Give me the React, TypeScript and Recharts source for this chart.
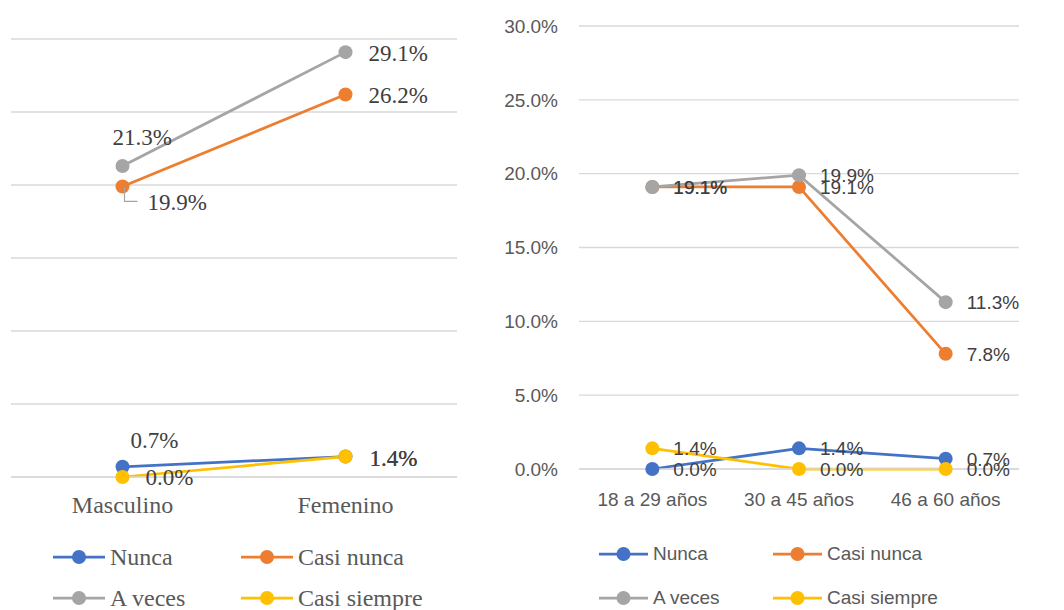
import { LineChart, Line, XAxis, YAxis, CartesianGrid, LabelList } from "recharts";

// series order: Nunca, Casi nunca, A veces, Casi siempre
const SERIES = [
  { key: "nunca", name: "Nunca", color: "#4472C4" },
  { key: "casiNunca", name: "Casi nunca", color: "#ED7D31" },
  { key: "aVeces", name: "A veces", color: "#A5A5A5" },
  { key: "casiSiempre", name: "Casi siempre", color: "#FFC000" },
];

const Y_TICKS = [0, 5, 10, 15, 20, 25, 30];

// left chart: sexo
const sexCategories = ["Masculino", "Femenino"];
const sexNunca = [0.7, 1.4];
const sexCasiNunca = [19.9, 26.2];
const sexAVeces = [21.3, 29.1];
const sexCasiSiempre = [0.0, 1.4];

// right chart: edad
const ageCategories = ["18 a 29 años", "30 a 45 años", "46 a 60 años"];
const ageNunca = [0.0, 1.4, 0.7];
const ageCasiNunca = [19.1, 19.1, 7.8];
const ageAVeces = [19.1, 19.9, 11.3];
const ageCasiSiempre = [1.4, 0.0, 0.0];

const sexData = sexCategories.map((cat, i) => ({
  cat,
  nunca: sexNunca[i],
  casiNunca: sexCasiNunca[i],
  aVeces: sexAVeces[i],
  casiSiempre: sexCasiSiempre[i],
}));

const ageData = ageCategories.map((cat, i) => ({
  cat,
  nunca: ageNunca[i],
  casiNunca: ageCasiNunca[i],
  aVeces: ageAVeces[i],
  casiSiempre: ageCasiSiempre[i],
}));

const SERIF = "'Liberation Serif', 'Times New Roman', serif";
const SANS = "'Liberation Sans', Arial, sans-serif";
const pct = (v: number) => `${Number(v).toFixed(1)}%`;

// label placement for the left chart (Excel moved a few by hand)
const sexLabelOffsets: Record<string, { dx: number; dy: number; leader?: boolean }[]> = {
  nunca: [{ dx: 8, dy: -19 }, { dx: 24, dy: 9 }],
  casiNunca: [{ dx: 25, dy: 24, leader: true }, { dx: 23, dy: 9 }],
  aVeces: [{ dx: -10, dy: -21 }, { dx: 23, dy: 9 }],
  casiSiempre: [{ dx: 23, dy: 8 }, { dx: 24, dy: 9 }],
};

function sexLabel(seriesKey: string) {
  return (props: any) => {
    const { x, y, value, index } = props;
    const o = sexLabelOffsets[seriesKey][index];
    return (
      <g>
        {o.leader && (
          <polyline
            points={`${x + 2},${y + 1} ${x + 2},${y + 15} ${x + 15},${y + 15}`}
            fill="none"
            stroke="#A6A6A6"
            strokeWidth={1.2}
          />
        )}
        <text
          x={x + o.dx}
          y={y + o.dy}
          fill="#404040"
          style={{ fontFamily: SERIF, fontSize: 23 }}
        >
          {pct(value)}
        </text>
      </g>
    );
  };
}

const ageLabel = (props: any) => {
  const { x, y, value } = props;
  return (
    <text x={x + 21} y={y + 7} fill="#404040" style={{ fontFamily: SANS, fontSize: 19 }}>
      {pct(value)}
    </text>
  );
};

function LegendBlock({
  left,
  top,
  cols,
  rowGap,
  lineLen,
  font,
  fontSize,
}: {
  left: number;
  top: number;
  cols: number[];
  rowGap: number;
  lineLen: number;
  font: string;
  fontSize: number;
}) {
  return (
    <>
      {SERIES.map((s, i) => {
        const col = i % 2;
        const row = Math.floor(i / 2);
        return (
          <div
            key={s.key}
            style={{
              position: "absolute",
              left: left + cols[col],
              top: top + row * rowGap - 12,
              height: 24,
              display: "flex",
              alignItems: "center",
              fontFamily: font,
              fontSize,
              color: "#595959",
              whiteSpace: "nowrap",
            }}
          >
            <svg width={lineLen} height={18} style={{ marginRight: 5 }}>
              <line x1={0} y1={9} x2={lineLen} y2={9} stroke={s.color} strokeWidth={2.75} />
              <circle cx={lineLen / 2} cy={9} r={7} fill={s.color} />
            </svg>
            <span>{s.name}</span>
          </div>
        );
      })}
    </>
  );
}

export default function App() {
  return (
    <div
      style={{
        position: "absolute",
        left: 0,
        top: 0,
        width: 1064,
        height: 610,
        background: "#fff",
        overflow: "hidden",
      }}
    >
      <div style={{ position: "absolute", left: 0, top: 0 }}>
        <LineChart width={480} height={610} data={sexData} margin={{ top: 39, right: 23, bottom: 93, left: 11 }}>
          <CartesianGrid vertical={false} stroke="#D9D9D9" strokeWidth={1.3} />
          <XAxis
            dataKey="cat"
            scale="band"
            height={40}
            tickLine={false}
            axisLine={{ stroke: "#D9D9D9", strokeWidth: 1.3 }}
            tickMargin={13}
            tick={{ fill: "#595959", fontFamily: SERIF, fontSize: 24 }}
          />
          <YAxis hide domain={[0, 30]} ticks={Y_TICKS} />
          {SERIES.map((s) => (
            <Line
              key={s.key}
              dataKey={s.key}
              name={s.name}
              stroke={s.color}
              strokeWidth={2.75}
              dot={{ r: 7, fill: s.color, stroke: "none" }}
              activeDot={false}
              isAnimationActive={false}
            >
              <LabelList dataKey={s.key} content={sexLabel(s.key)} />
            </Line>
          ))}
        </LineChart>
        <LegendBlock left={53} top={557} cols={[0, 188]} rowGap={41} lineLen={52} font={SERIF} fontSize={24} />
      </div>

      <div style={{ position: "absolute", left: 500, top: 0 }}>
        <LineChart width={564} height={610} data={ageData} margin={{ top: 26, right: 45, bottom: 101, left: 0 }}>
          <CartesianGrid vertical={false} stroke="#D9D9D9" strokeWidth={1.3} />
          <XAxis
            dataKey="cat"
            scale="band"
            height={40}
            tickLine={false}
            axisLine={{ stroke: "#D9D9D9", strokeWidth: 1.3 }}
            tickMargin={18}
            tick={{ fill: "#595959", fontFamily: SANS, fontSize: 19 }}
          />
          <YAxis
            width={79}
            domain={[0, 30]}
            ticks={Y_TICKS}
            tickLine={false}
            axisLine={false}
            tickMargin={15}
            tickFormatter={pct}
            tick={{ fill: "#595959", fontFamily: SANS, fontSize: 19 }}
          />
          {SERIES.map((s) => (
            <Line
              key={s.key}
              dataKey={s.key}
              name={s.name}
              stroke={s.color}
              strokeWidth={2.75}
              dot={{ r: 7, fill: s.color, stroke: "none" }}
              activeDot={false}
              isAnimationActive={false}
            >
              <LabelList dataKey={s.key} content={ageLabel} />
            </Line>
          ))}
        </LineChart>
        <LegendBlock left={99} top={554} cols={[0, 174]} rowGap={44} lineLen={49} font={SANS} fontSize={19} />
      </div>
    </div>
  );
}
